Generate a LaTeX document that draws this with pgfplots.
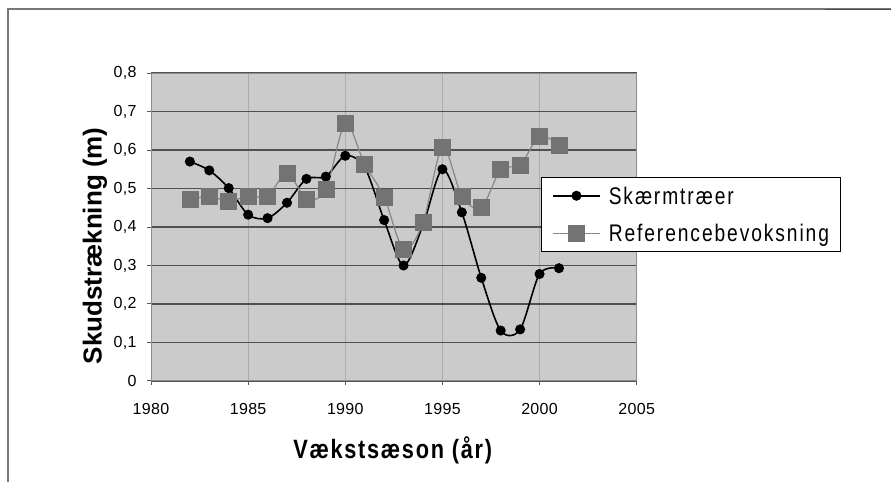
\documentclass[border=0pt]{standalone}
\usepackage{fontspec}
\setmainfont{Liberation Sans}
\usepackage{pgfplots}
\pgfplotsset{compat=1.18}

\newfontfamily\tickfont{Liberation Sans}[LetterSpace=2]
\newfontfamily\legfont{Liberation Sans}[FakeStretch=0.8,LetterSpace=8]
\newfontfamily\xlabfont{Liberation Sans}[FakeStretch=0.82,LetterSpace=6.5]
\newfontfamily\ylabfont{Liberation Sans}

\definecolor{plotbg}{RGB}{203,203,203}
\definecolor{hgrid}{RGB}{80,80,80}
\definecolor{vgrid}{RGB}{172,172,172}
\definecolor{axgray}{RGB}{140,140,140}
\definecolor{refgray}{RGB}{115,115,115}
\definecolor{refline}{RGB}{135,135,135}
\definecolor{framegray}{RGB}{120,120,120}

\begin{document}
\begin{tikzpicture}[x=0.5pt,y=0.5pt]
\useasboundingbox (0,0) rectangle (891,482);
\draw[framegray, line width=0.6pt] (8,0) -- (8,473) -- (891,473);
\draw[black!70, line width=0.9pt] (825,472.5) -- (891,472.5);

\begin{axis}[
  at={(75.5pt,50.5pt)}, anchor=south west,
  width=242.85pt, height=154pt, scale only axis,
  xmin=1980, xmax=2005, ymin=0, ymax=0.8,
  xtick={1980,1985,1990,1995,2000,2005},
  ytick={0,0.1,0.2,0.3,0.4,0.5,0.6,0.7,0.8},
  xmajorgrids, ymajorgrids,
  x grid style={vgrid, line width=0.4pt},
  y grid style={hgrid, line width=0.65pt},
  axis background/.style={fill=plotbg},
  axis line style={axgray, line width=0.5pt},
  tick align=outside, tick pos=left,
  major tick length=2pt,
  tick style={black!65, line width=0.5pt},
  /pgf/number format/assume math mode=true,
  x tick label style={/pgf/number format/set thousands separator={},
    font=\tickfont\fontsize{8pt}{9pt}\selectfont, anchor=north, inner sep=0pt, yshift=-9pt},
  y tick label style={/pgf/number format/.cd, fixed, precision=1, use comma,
    /tikz/.cd, font=\tickfont\fontsize{8pt}{9pt}\selectfont, anchor=east, inner sep=0pt, xshift=-5pt},
  xlabel={Vækstsæson (år)},
  xlabel style={font=\xlabfont\bfseries\fontsize{13.25pt}{15pt}\selectfont,
    at={(axis description cs:0.4976,-0.252)}, anchor=base},
  ylabel={Skudstrækning (m)},
  ylabel style={font=\ylabfont\bfseries\fontsize{13pt}{15pt}\selectfont,
    at={(axis description cs:-0.1015,0.4388)}, anchor=base, rotate=0},
  legend style={at={(axis description cs:0.8023,0.6622)}, anchor=north west,
    draw=black, line width=0.5pt, fill=white,
    font=\legfont\fontsize{12pt}{14pt}\selectfont,
    inner xsep=5.5pt, inner ysep=4.8pt, row sep=10.1pt, column sep=4pt,
    nodes={inner sep=0pt, text height=8.6pt, text depth=0pt}},
  legend cell align=left,
  legend image code/.code={\draw[mark repeat=2,mark phase=2,#1]
    plot coordinates {(0pt,0pt) (11.75pt,0pt) (23.5pt,0pt)};},
  clip=false,
]
\addplot[black, line width=0.8pt, smooth, tension=0.5, mark=*, mark size=2.1pt,
  mark options={fill=black, draw=black}] coordinates {
  (1982,0.570)(1983,0.547)(1984,0.501)(1985,0.432)(1986,0.423)
  (1987,0.463)(1988,0.525)(1989,0.531)(1990,0.585)(1991,0.555)
  (1992,0.418)(1993,0.300)(1994,0.405)(1995,0.550)(1996,0.438)
  (1997,0.268)(1998,0.131)(1999,0.134)(2000,0.278)(2001,0.293)
};
\addlegendentry{Skærmtræer}

\addplot[refline, line width=0.6pt, smooth, tension=0.5, mark=square*, mark size=4pt,
  mark options={fill=refgray, draw=refgray, line width=0.3pt}] coordinates {
  (1982,0.471)(1983,0.480)(1984,0.467)(1985,0.480)(1986,0.480)
  (1987,0.540)(1988,0.473)(1989,0.497)(1990,0.669)(1991,0.563)
  (1992,0.478)(1993,0.342)(1994,0.411)(1995,0.607)(1996,0.480)
  (1997,0.450)(1998,0.549)(1999,0.561)(2000,0.636)(2001,0.612)
};
\addlegendentry{Referencebevoksning}
\end{axis}
\end{tikzpicture}
\end{document}
